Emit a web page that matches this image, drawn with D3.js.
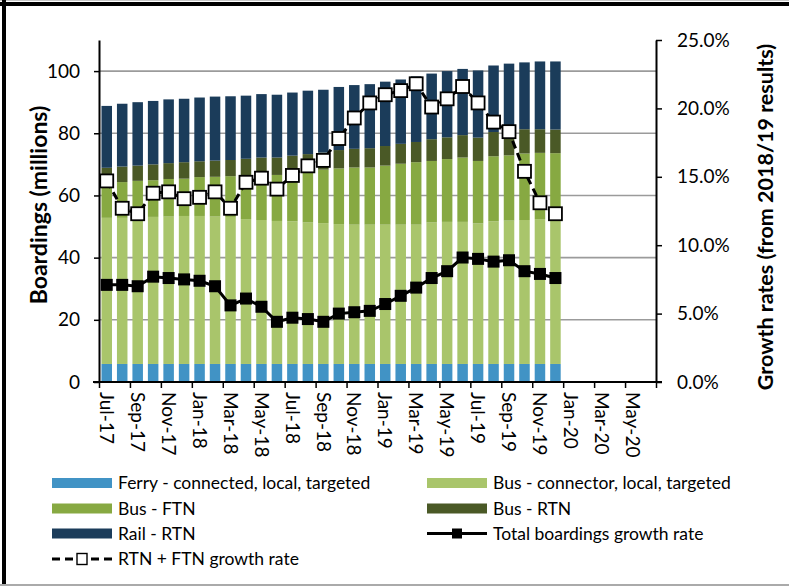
<!DOCTYPE html>
<html>
<head>
<meta charset="utf-8">
<script src="https://cdn.jsdelivr.net/npm/d3@7"></script>
<style>
body { margin: 0; background: #fff; }
svg { display: block; font-family: Lato, "Open Sans", sans-serif; }
</style>
</head>
<body>
<script>
// months on the category axis (bars only cover the first 30)
var months = ['Jul-17','Aug-17','Sep-17','Oct-17','Nov-17','Dec-17','Jan-18','Feb-18','Mar-18','Apr-18','May-18','Jun-18',
              'Jul-18','Aug-18','Sep-18','Oct-18','Nov-18','Dec-18','Jan-19','Feb-19','Mar-19','Apr-19','May-19','Jun-19',
              'Jul-19','Aug-19','Sep-19','Oct-19','Nov-19','Dec-19','Jan-20','Feb-20','Mar-20','Apr-20','May-20','Jun-20'];

// boardings, millions
var ferry    = [5.8,5.8,5.8,5.8,5.8,5.8,5.8,5.8,5.8,5.8,5.8,5.8,5.8,5.8,5.8,5.8,5.8,5.8,5.8,5.8,5.8,5.8,5.8,5.8,5.8,5.8,5.8,5.8,5.8,5.8];
var busLocal = [47.0,47.0,47.0,47.3,47.4,47.6,47.6,47.4,47.3,46.6,46.3,46.0,45.9,45.5,45.3,45.0,44.8,44.8,44.8,44.8,44.8,45.5,45.7,45.7,45.2,45.9,46.1,46.3,46.6,46.6];
var busFTN   = [11.1,11.5,11.9,11.8,12.1,12.0,12.5,12.8,13.1,14.1,15.0,14.8,15.7,16.6,17.2,17.9,18.4,18.4,19.0,19.6,20.1,19.8,20.2,20.7,20.1,20.9,21.0,21.4,21.3,21.2];
var busRTN   = [5.0,5.0,4.9,5.1,5.1,5.3,5.1,5.2,5.2,5.3,5.1,5.6,5.4,5.4,5.5,5.9,6.0,6.2,6.3,6.4,6.5,7.0,7.0,7.2,7.5,7.8,8.3,7.8,7.6,7.6];
var railRTN  = [19.9,20.2,20.4,20.4,20.5,20.4,20.5,20.6,20.5,20.3,20.4,20.2,20.3,20.4,20.2,20.3,20.5,20.6,20.7,20.7,21.1,21.1,21.3,21.3,21.6,21.4,21.2,21.5,21.8,21.9];

// growth rates, %
var totalGrowth  = [7.1,7.1,7.0,7.7,7.6,7.5,7.4,7.0,5.6,6.1,5.5,4.4,4.7,4.6,4.4,5.0,5.1,5.2,5.7,6.3,6.9,7.6,8.1,9.1,9.0,8.8,8.9,8.1,7.9,7.6];
var rtnFtnGrowth = [14.7,12.7,12.3,13.8,13.9,13.4,13.5,13.9,12.7,14.6,14.9,14.1,15.1,15.8,16.2,17.8,19.3,20.4,21.0,21.3,21.8,20.1,20.7,21.6,20.4,19.0,18.3,15.4,13.1,12.3];

var leftTicks  = [0,20,40,60,80,100];
var rightTicks = [0,5,10,15,20,25];

var seriesKeys   = ['ferry','busLocal','busFTN','busRTN','railRTN'];
var seriesNames  = ['Ferry - connected, local, targeted','Bus - connector, local, targeted','Bus - FTN','Bus - RTN','Rail - RTN'];
var seriesColors = ['#4193c5','#a9c56b','#87a942','#4a5926','#1b3c5a'];

var svgWidth = 789, svgHeight = 586;
var plotLeft = 99, plotRight = 656, plotTop = 40, plotBottom = 382;

var svg = d3.select('body').append('svg')
  .attr('width', svgWidth)
  .attr('height', svgHeight);

var x = d3.scaleBand().domain(months).range([plotLeft, plotRight]).paddingInner(0.32).paddingOuter(0.16);
var xi = d3.scaleLinear().domain([0, months.length]).range([plotLeft, plotRight]);
var yL = d3.scaleLinear().domain([0, 110]).range([plotBottom, plotTop]);
var yR = d3.scaleLinear().domain([0, 25]).range([plotBottom, plotTop]);

// gridlines
svg.append('g').selectAll('line')
  .data(leftTicks.slice(1))
  .enter().append('line')
  .attr('x1', plotLeft).attr('x2', plotRight)
  .attr('y1', function(d) { return yL(d); })
  .attr('y2', function(d) { return yL(d); })
  .attr('stroke', '#9b9b9b')
  .attr('stroke-width', 1.6);

// stacked bars
var rows = ferry.map(function(d, i) {
  return { month: months[i], ferry: ferry[i], busLocal: busLocal[i], busFTN: busFTN[i], busRTN: busRTN[i], railRTN: railRTN[i] };
});
var stacked = d3.stack().keys(seriesKeys)(rows);

svg.append('g').selectAll('g')
  .data(stacked)
  .enter().append('g')
  .attr('fill', function(d, i) { return seriesColors[i]; })
  .selectAll('rect')
  .data(function(d) { return d; })
  .enter().append('rect')
  .attr('x', function(d) { return x(d.data.month); })
  .attr('width', x.bandwidth())
  .attr('y', function(d) { return yL(d[1]); })
  .attr('height', function(d) { return yL(d[0]) - yL(d[1]); });

// axes
var axisLeft = svg.append('g')
  .attr('transform', 'translate(' + plotLeft + ',0)')
  .call(d3.axisLeft(yL).tickValues(leftTicks).tickSize(5).tickPadding(14).tickSizeOuter(0));

var axisRight = svg.append('g')
  .attr('transform', 'translate(' + plotRight + ',0)')
  .call(d3.axisRight(yR).tickValues(rightTicks).tickSize(6).tickPadding(15).tickSizeOuter(0)
    .tickFormat(function(d) { return d.toFixed(1) + '%'; }));

var tickIdx = d3.range(0, months.length + 1, 2);
var axisTicks = svg.append('g')
  .attr('transform', 'translate(0,' + plotBottom + ')')
  .call(d3.axisBottom(xi).tickValues(tickIdx).tickSize(6).tickSizeOuter(0).tickFormat(''));

var labelMonths = months.filter(function(d, i) { return i % 2 === 0; });
var axisLabels = svg.append('g')
  .attr('transform', 'translate(0,' + plotBottom + ')')
  .call(d3.axisBottom(x).tickValues(labelMonths).tickSize(0).tickSizeOuter(0));
axisLabels.select('.domain').remove();
axisLabels.selectAll('text')
  .attr('transform', 'rotate(90)')
  .attr('x', 10)
  .attr('y', 0)
  .attr('dy', '0.36em')
  .attr('text-anchor', 'start');

[axisLeft, axisRight, axisTicks, axisLabels].forEach(function(g) {
  g.selectAll('.domain').attr('stroke', '#000').attr('stroke-width', 2);
  g.selectAll('.tick line').attr('stroke', '#000').attr('stroke-width', 1.5);
  g.selectAll('text').attr('font-family', 'Lato, sans-serif').attr('font-size', 19).attr('fill', '#000');
});
axisTicks.select('.domain').attr('d', 'M' + (plotLeft - 6) + ',0H' + (plotRight + 6));

// axis titles
svg.append('text')
  .attr('transform', 'translate(47,' + ((plotTop + plotBottom) / 2 - 6) + ') rotate(-90)')
  .attr('text-anchor', 'middle')
  .attr('font-size', 23)
  .attr('font-weight', 'bold')
  .text('Boardings (millions)');

svg.append('text')
  .attr('transform', 'translate(773,' + ((plotTop + plotBottom) / 2 + 6) + ') rotate(-90)')
  .attr('text-anchor', 'middle')
  .attr('font-size', 21.5)
  .attr('font-weight', 'bold')
  .text('Growth rates (from 2018/19 results)');

// growth lines
var lineGen = d3.line()
  .x(function(d, i) { return x(months[i]) + x.bandwidth() / 2; })
  .y(function(d) { return yR(d); });

svg.append('path')
  .datum(rtnFtnGrowth)
  .attr('d', lineGen)
  .attr('fill', 'none')
  .attr('stroke', '#000')
  .attr('stroke-width', 3)
  .attr('stroke-dasharray', '8,5');

svg.append('path')
  .datum(totalGrowth)
  .attr('d', lineGen)
  .attr('fill', 'none')
  .attr('stroke', '#000')
  .attr('stroke-width', 3);

svg.append('g').selectAll('rect')
  .data(totalGrowth)
  .enter().append('rect')
  .attr('x', function(d, i) { return x(months[i]) + x.bandwidth() / 2 - 6; })
  .attr('y', function(d) { return yR(d) - 6; })
  .attr('width', 12).attr('height', 12)
  .attr('fill', '#000');

svg.append('g').selectAll('rect')
  .data(rtnFtnGrowth)
  .enter().append('rect')
  .attr('x', function(d, i) { return x(months[i]) + x.bandwidth() / 2 - 6.5; })
  .attr('y', function(d) { return yR(d) - 6.5; })
  .attr('width', 13).attr('height', 13)
  .attr('fill', '#fff')
  .attr('stroke', '#000')
  .attr('stroke-width', 1.8);

// legend
var legendItems = [
  { name: seriesNames[0], type: 'bar', color: seriesColors[0], col: 0, row: 0 },
  { name: seriesNames[1], type: 'bar', color: seriesColors[1], col: 1, row: 0 },
  { name: seriesNames[2], type: 'bar', color: seriesColors[2], col: 0, row: 1 },
  { name: seriesNames[3], type: 'bar', color: seriesColors[3], col: 1, row: 1 },
  { name: seriesNames[4], type: 'bar', color: seriesColors[4], col: 0, row: 2 },
  { name: 'Total boardings growth rate', type: 'solid', col: 1, row: 2 },
  { name: 'RTN + FTN growth rate', type: 'dashed', col: 0, row: 3 }
];
var legCols = [52, 427], legRows = [483, 508.5, 533.5, 559];

var leg = svg.append('g').selectAll('g')
  .data(legendItems)
  .enter().append('g')
  .attr('transform', function(d) { return 'translate(' + legCols[d.col] + ',' + legRows[d.row] + ')'; });

leg.filter(function(d) { return d.type === 'bar'; })
  .append('rect')
  .attr('x', 0).attr('y', -5).attr('width', 60).attr('height', 10)
  .attr('fill', function(d) { return d.color; });

leg.filter(function(d) { return d.type !== 'bar'; })
  .append('line')
  .attr('x1', 0).attr('x2', 60).attr('y1', 0).attr('y2', 0)
  .attr('stroke', '#000').attr('stroke-width', 3)
  .attr('stroke-dasharray', function(d) { return d.type === 'dashed' ? '8,5' : null; });

leg.filter(function(d) { return d.type === 'solid'; })
  .append('rect')
  .attr('x', 25).attr('y', -5).attr('width', 10).attr('height', 10)
  .attr('fill', '#000');

leg.filter(function(d) { return d.type === 'dashed'; })
  .append('rect')
  .attr('x', 25).attr('y', -5.5).attr('width', 10).attr('height', 11)
  .attr('fill', '#fff').attr('stroke', '#000').attr('stroke-width', 1.4);

leg.append('text')
  .attr('x', 66).attr('y', 0).attr('dy', '0.35em')
  .attr('font-size', 17.5)
  .text(function(d) { return d.name; });

// frame
svg.append('rect').attr('x', 0).attr('y', 0).attr('width', svgWidth).attr('height', 1).attr('fill', '#c8c8c8');
svg.append('rect').attr('x', 0).attr('y', 2).attr('width', svgWidth).attr('height', 4).attr('fill', '#000');
svg.append('rect').attr('x', 2).attr('y', 0).attr('width', 4).attr('height', svgHeight).attr('fill', '#000');
svg.append('rect').attr('x', 0).attr('y', svgHeight - 2).attr('width', svgWidth).attr('height', 2).attr('fill', '#aaa');
</script>
</body>
</html>
